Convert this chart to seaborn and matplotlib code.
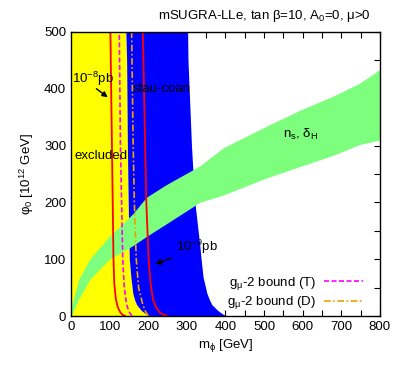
import numpy as np
import pandas as pd
import matplotlib
matplotlib.use("Agg")
import matplotlib.pyplot as plt
import seaborn as sns

# green band (n_s, delta_H): m_phi vs lower/upper phi_0
band_m = [0, 20, 48, 99, 160, 195, 246, 333, 394, 506, 592, 679, 748, 800]
band_hi = [15, 65, 100, 140, 180, 209, 231, 264, 296, 334, 362, 387, 410, 434]
band_lo = [0, 30, 64, 100, 124, 140, 162, 200, 213, 243, 263, 283, 302, 310]

# excluded (yellow) and stau-coannihilation (blue) regions, given as m_phi(phi_0)
reg_phi = [0, 5, 10, 20, 28, 40, 69, 100, 128, 205, 300, 450, 500]
excl_edge = [203, 192, 182, 170, 165, 160, 155, 151, 150, 148, 146, 144, 142]
stau_edge = [402, 390, 380, 365, 359, 352, 342, 337, 333, 320, 312, 303, 302]

# cross section contours and g-2 bounds: phi_0 -> m_phi
line_phi = [0.5, 2, 6, 16, 30, 58, 100, 200, 300, 500]
xs8 = [140, 134, 128, 121, 116, 112, 110, 108, 106, 102]
xs9 = [248, 240, 230, 220, 212, 206, 201, 195, 192, 186]
gT_phi = [0.5, 2, 8, 20, 50, 100, 200, 300, 500]
gT_m = [158, 156, 150, 144, 138, 134, 131, 128, 125]
gD_phi = [0.5, 1, 8, 20, 50, 100, 200, 300, 500]
gD_m = [201, 200, 193, 186, 175, 169, 164, 161, 157]

sns.set_style("ticks")
plt.rcParams["font.family"] = ["Liberation Sans", "DejaVu Sans"]
plt.rcParams["mathtext.fontset"] = "custom"
plt.rcParams["mathtext.rm"] = "Liberation Sans"
plt.rcParams["mathtext.it"] = "Liberation Sans"
plt.rcParams["mathtext.default"] = "regular"
plt.rcParams["font.size"] = 9.5
for k in ["text.color", "axes.labelcolor", "xtick.color", "ytick.color", "axes.edgecolor"]:
    plt.rcParams[k] = "black"

fig = plt.figure(figsize=(3.99, 3.71), dpi=100)
ax = fig.add_axes([0.178, 0.148, 0.774, 0.766])

ax.fill_betweenx(reg_phi, 0, excl_edge, color="#ffff00", lw=0)
ax.fill_betweenx(reg_phi, excl_edge, stau_edge, color="#0000ff", lw=0)
ax.fill_between(band_m, band_lo, band_hi, color="#7dff7d", lw=0)

sns.lineplot(x=xs8, y=line_phi, orient="y", color="#ff0000", lw=1.3, ax=ax)
sns.lineplot(x=xs9, y=line_phi, orient="y", color="#ff0000", lw=1.3, ax=ax)
sns.lineplot(x=gT_m, y=gT_phi, orient="y", color="#ff00ff", lw=1.2,
             linestyle=(0, (3, 1.5)), label="g$_\\mu$-2 bound (T)", ax=ax)
sns.lineplot(x=gD_m, y=gD_phi, orient="y", color="#f0a000", lw=1.2,
             linestyle=(0, (4, 1.5, 1, 1.5)), label="g$_\\mu$-2 bound (D)", ax=ax)

ax.set_xlim(0, 800)
ax.set_ylim(0, 500)
ax.set_xticks(range(0, 801, 100))
ax.set_xticks(range(0, 801, 50), minor=True)
ax.set_yticks(range(0, 501, 100))
ax.set_yticks(range(0, 501, 50), minor=True)
ax.tick_params(which="both", direction="in", top=True, right=True, width=0.8,
               length=4, labelsize=9.5)
for s in ax.spines.values():
    s.set_linewidth(1.0)

ax.set_xlabel("m$_\\phi$ [GeV]", labelpad=3)
ax.set_ylabel("φ$_0$ [10$^{12}$ GeV]", labelpad=6)

arrow = dict(arrowstyle="-|>", color="black", lw=1, mutation_scale=8)
ax.text(2, 417, "10$^{-8}$pb", va="center")
ax.annotate("", xy=(101, 382), xytext=(60, 403), arrowprops=arrow)
ax.text(272, 122, "10$^{-9}$pb", va="center")
ax.annotate("", xy=(212, 90), xytext=(267, 104), arrowprops=arrow)
ax.text(160, 399, "stau-coan", va="center")
ax.text(8, 281, "excluded", va="center")
ax.text(550, 320, "n$_s$, δ$_H$", va="center")

ax.legend(loc="lower right", bbox_to_anchor=(0.985, -0.025), frameon=False,
          markerfirst=False, handlelength=3.0, handletextpad=0.6,
          labelspacing=0.2, fontsize=9.5)

fig.text(0.662, 0.957, "mSUGRA-LLe, tan β=10, A$_0$=0, μ>0",
         ha="center", va="center", fontsize=9.5)

fig.savefig("out.png", dpi=100)
